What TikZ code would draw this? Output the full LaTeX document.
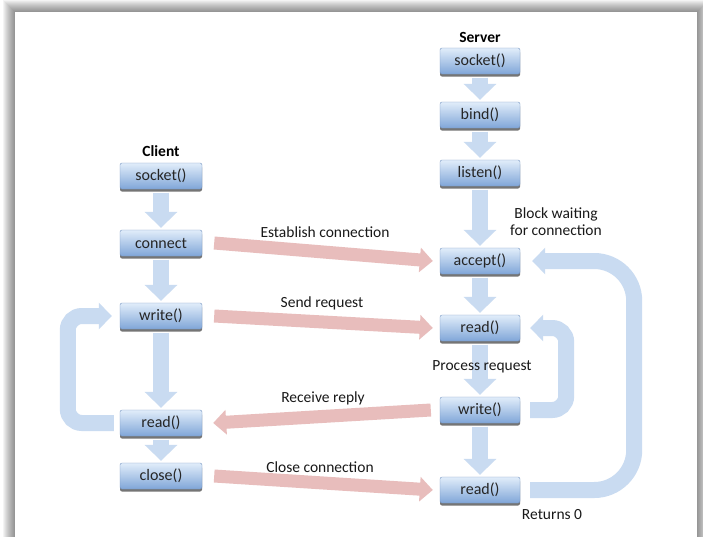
\documentclass[tikz,border=0pt]{standalone}
\usepackage{fontspec}
\setmainfont{Carlito}
\usetikzlibrary{arrows.meta,shadows}
\definecolor{boxtop}{HTML}{E1EDFA}
\definecolor{boxbot}{HTML}{80A6D8}
\definecolor{boxline}{HTML}{7595C2}
\definecolor{bluearr}{HTML}{C9DBF1}
\definecolor{pinkarr}{HTML}{E8BDBC}
\begin{document}
\begin{tikzpicture}[x=1pt,y=-1pt,
 box/.style={rounded corners=2pt, top color=boxtop, bottom color=boxbot, draw=boxline, line width=0.4pt, minimum height=26pt, inner sep=0pt, font=\fontsize{16}{18}\selectfont, text=black!85, drop shadow={shadow xshift=0pt, shadow yshift=-2.5pt, fill=black!60, opacity=0.9}},
 cbox/.style={box, minimum width=82pt},
 sbox/.style={box, minimum width=80pt},
 varr/.style={draw=bluearr, line width=16pt, -{Triangle[length=16pt,width=32pt]}},
 larr/.style={draw=bluearr, line width=16pt, -{Triangle[length=13pt,width=26pt]}},
 parr/.style={draw=pinkarr, line width=13pt, -{Triangle[length=13pt,width=24pt]}},
 lbl/.style={font=\fontsize{15.5}{17}\selectfont, text=black!90, inner sep=0pt},
 head/.style={font=\bfseries\fontsize{15.5}{17}\selectfont, text=black, inner sep=0pt}]
\useasboundingbox (0,0) rectangle (703,536);
% frame with shadow
\foreach \i in {12,11,...,1}
  \fill[black, opacity=0.045] (15-\i,12-\i) rectangle (697+\i,548+\i);
\fill[white] (15,12) rectangle (697,548);

% client nodes
\node[head] (clbl) at (161,151) {Client};
\node[cbox] (cs) at (161,176) {socket()};
\node[cbox] (cc) at (161,243) {connect};
\node[cbox] (cw) at (161,316) {write()};
\node[cbox] (cr) at (161,423) {read()};
\node[cbox] (cx) at (161,476) {close()};

% server nodes
\node[head] (slbl) at (480,37) {Server};
\node[sbox] (ss) at (480,61) {socket()};
\node[sbox] (sb) at (480,115) {bind()};
\node[sbox] (sl) at (480,173) {listen()};
\node[sbox] (sa) at (480,261) {accept()};
\node[sbox] (sr) at (480,328) {read()};
\node[sbox] (sw) at (480,410) {write()};
\node[sbox] (sr2) at (480,490) {read()};

% vertical arrows
\foreach \a/\b in {cs/cc,cc/cw,cw/cr,cr/cx,ss/sb,sb/sl,sl/sa,sa/sr,sr/sw,sw/sr2}
  \draw[varr] ([yshift=-3.5pt]\a.south) -- ([yshift=2pt]\b.north);

% loops
\draw[larr, rounded corners=14pt] ([xshift=-6pt]cr.west) -- ++(-46,0) |- ([xshift=-8pt]cw.west);
\draw[larr, rounded corners=14pt] ([xshift=10pt]sw.east) -- ++(36,0) |- ([xshift=10pt]sr.east);
\draw[larr, rounded corners=40pt] ([xshift=10pt]sr2.east) -- ++(104,0) |- ([xshift=12pt]sa.east);

% pink arrows
\draw[parr] ([xshift=12pt]cc.east) -- ([xshift=-7pt]sa.west);
\draw[parr] ([xshift=12pt]cw.east) -- ([xshift=-7pt]sr.west);
\draw[parr] ([xshift=-9pt]sw.west) -- ([xshift=11pt]cr.east);
\draw[parr] ([xshift=12pt]cx.east) -- ([xshift=-7pt]sr2.west);

% labels
\node[lbl] (l1) at (325,232) {Establish connection};
\node[lbl] (l2) at (322,303) {Send request};
\node[lbl] (l3) at (323,398) {Receive reply};
\node[lbl] (l4) at (320,467) {Close connection};
\node[lbl, align=center] (l5) at (556,222) {Block waiting\\for connection};
\node[lbl] (l6) at (482,367) {Process request};
\node[lbl] (l7) at (552,515) {Returns 0};
\end{tikzpicture}
\end{document}
